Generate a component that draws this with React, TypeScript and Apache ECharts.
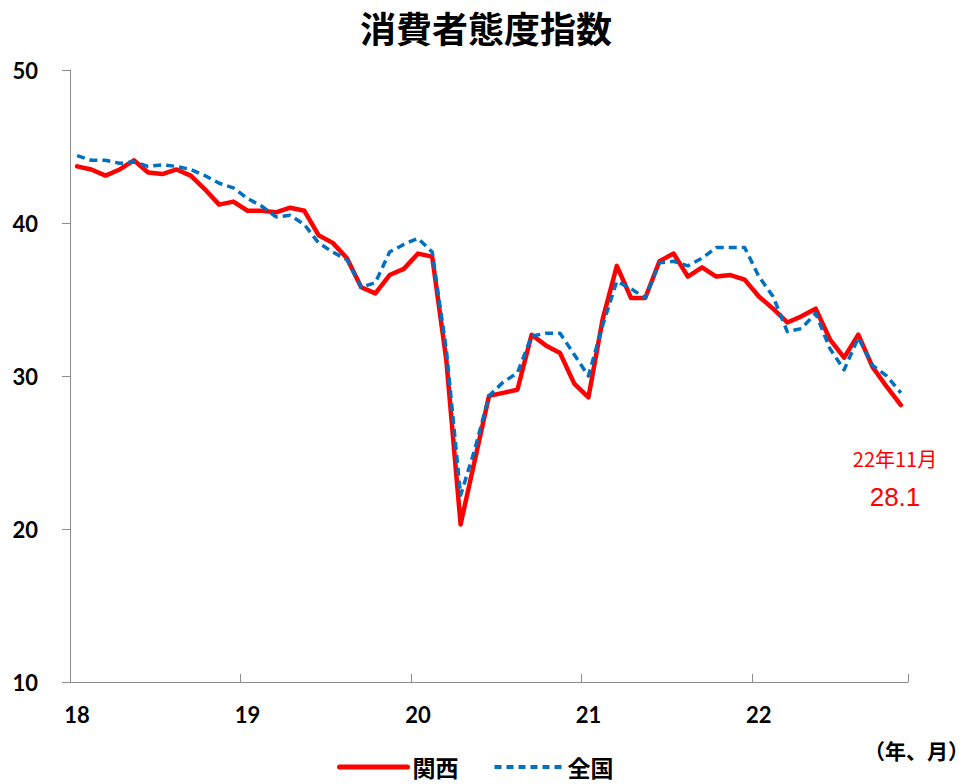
import React, { useEffect, useRef } from "react";
import * as echarts from "echarts";

const months: string[] = [];
for (let y = 18; y <= 22; y++) {
  for (let m = 1; m <= 12; m++) {
    if (y === 22 && m === 12) break;
    months.push(`${y}年${m}月`);
  }
}

const yearLabels = ["18", "19", "20", "21", "22"];

const kansai = [
  43.7, 43.5, 43.1, 43.5, 44.1, 43.3, 43.2, 43.5, 43.1, 42.2, 41.2, 41.4,
  40.8, 40.8, 40.7, 41.0, 40.8, 39.2, 38.7, 37.7, 35.8, 35.4, 36.6, 37.0,
  38.0, 37.8, 31.0, 20.3, 24.5, 28.7, 28.9, 29.1, 32.7, 32.0, 31.5, 29.5,
  28.6, 33.7, 37.2, 35.1, 35.1, 37.5, 38.0, 36.5, 37.1, 36.5, 36.6, 36.3,
  35.2, 34.4, 33.5, 33.9, 34.4, 32.4, 31.2, 32.7, 30.6, 29.3, 28.1,
];

const zenkoku = [
  44.4, 44.1, 44.1, 43.9, 44.0, 43.7, 43.8, 43.7, 43.5, 43.1, 42.6, 42.3,
  41.6, 41.1, 40.4, 40.5, 39.9, 38.7, 38.1, 37.6, 35.8, 36.1, 38.1, 38.6,
  39.0, 38.1, 31.7, 22.2, 25.2, 28.7, 29.6, 30.2, 32.6, 32.8, 32.8, 31.4,
  30.0, 33.3, 36.2, 35.7, 35.1, 37.4, 37.5, 37.2, 37.7, 38.4, 38.4, 38.4,
  36.5, 35.2, 32.9, 33.1, 34.1, 31.8, 30.4, 32.5, 30.7, 30.0, 28.9,
];

const seriesNames = ["関西", "全国"];
const title = "消費者態度指数";
const latestLabel = "22年11月";
const latestValue = "28.1";
const unitLabel = "（年、月）";

export default function App() {
  const ref = useRef<HTMLDivElement>(null);
  useEffect(() => {
    if (!ref.current) return;
    document.body.style.margin = "0";
    const chart = echarts.init(ref.current, null, { renderer: "svg" });
    const axisColor = "#8c8c8c";
    const font = "Lato, 'Noto Sans CJK JP', sans-serif";
    const cjk = "'Noto Sans CJK JP', sans-serif";
    chart.setOption({
      animation: false,
      backgroundColor: "#ffffff",
      textStyle: { fontFamily: font },
      title: {
        text: title,
        left: "center",
        top: 4,
        textStyle: { fontFamily: cjk, fontSize: 36, fontWeight: "bold", color: "#000" },
      },
      grid: { left: 70, right: 64, top: 70, bottom: 102, containLabel: false },
      legend: {
        left: 337,
        top: 753,
        padding: 0,
        itemWidth: 68,
        itemHeight: 14,
        itemGap: 34,
        itemStyle: { color: "transparent", borderColor: "transparent", borderWidth: 0 },
        textStyle: { fontFamily: cjk, fontSize: 23, fontWeight: "bold", color: "#000", lineHeight: 28 },
        data: [
          { name: seriesNames[0], lineStyle: { width: 5, color: "#ff0000", cap: "round" } },
          { name: seriesNames[1], lineStyle: { width: 4, color: "#0070c0", type: [7, 5] } },
        ],
      },
      xAxis: {
        type: "category",
        data: months,
        boundaryGap: true,
        axisLine: { lineStyle: { color: axisColor, width: 1 } },
        axisTick: {
          show: true,
          inside: true,
          length: 8,
          alignWithLabel: false,
          interval: (i: number) => i % 12 === 0,
          lineStyle: { color: axisColor },
        },
        axisLabel: {
          interval: (i: number) => i % 12 === 0,
          formatter: (_v: string, i: number) => yearLabels[Math.floor(i / 12)] ?? "",
          fontFamily: font,
          fontSize: 22,
          fontWeight: "bold",
          color: "#000",
          margin: 21,
        },
        splitLine: { show: false },
      },
      yAxis: {
        type: "value",
        min: 10,
        max: 50,
        interval: 10,
        axisLine: { show: true, lineStyle: { color: axisColor, width: 1 } },
        axisTick: { show: true, length: 8, lineStyle: { color: axisColor } },
        axisLabel: {
          fontFamily: font,
          fontSize: 22,
          fontWeight: "bold",
          color: "#000",
          margin: 32,
        },
        splitLine: { show: false },
      },
      series: [
        {
          name: seriesNames[0],
          type: "line",
          data: kansai,
          symbol: "none",
          z: 3,
          lineStyle: { color: "#ff0000", width: 4.5, join: "round", cap: "round" },
          itemStyle: { color: "#ff0000" },
        },
        {
          name: seriesNames[1],
          type: "line",
          data: zenkoku,
          symbol: "none",
          z: 4,
          lineStyle: { color: "#0070c0", width: 3.5, type: [8, 5], join: "round" },
          itemStyle: { color: "#0070c0" },
        },
      ],
      graphic: [
        {
          type: "text",
          x: 895,
          y: 458,
          style: {
            text: latestLabel,
            fill: "#ff0000",
            font: `20px ${cjk}`,
            align: "center",
            verticalAlign: "middle",
          },
        },
        {
          type: "text",
          x: 895,
          y: 497,
          style: {
            text: latestValue,
            fill: "#ff0000",
            font: `26px 'Liberation Sans', sans-serif`,
            align: "center",
            verticalAlign: "middle",
          },
        },
        {
          type: "text",
          x: 969,
          y: 750,
          style: {
            text: unitLabel,
            fill: "#000",
            font: `bold 21px ${cjk}`,
            align: "right",
            verticalAlign: "middle",
          },
        },
      ],
    });
    return () => chart.dispose();
  }, []);
  return <div ref={ref} style={{ width: 972, height: 784 }} />;
}
